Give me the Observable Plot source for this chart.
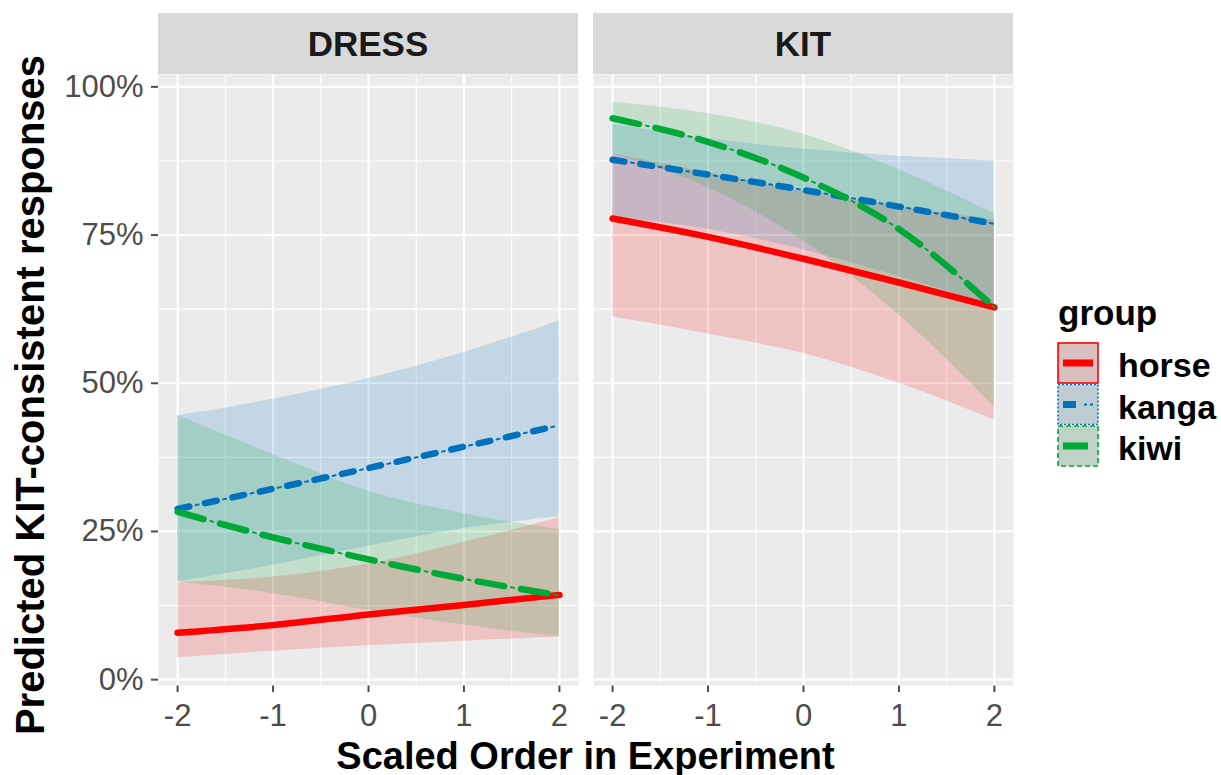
<!DOCTYPE html>
<html><head><meta charset="utf-8">
<script src="https://cdn.jsdelivr.net/npm/d3@7"></script>
<script src="https://cdn.jsdelivr.net/npm/@observablehq/plot@0.6"></script>
<style>
body{margin:0;background:#fff;}
#chart{position:relative;width:1221px;height:775px;}
#chart svg{font-family:"Liberation Sans",Arial,sans-serif;overflow:visible;}
g[aria-label="x-axis tick"], g[aria-label="y-axis tick"]{stroke:#333;stroke-width:2px;}
</style></head><body><div id="chart"></div>
<script>
// ---- categories / ticks ----
const orderX = [-2, -1, 0, 1, 2];
const panels = ["DRESS", "KIT"];
const groups = ["horse", "kanga", "kiwi"];
const groupColors = ["#FF0000", "#0071BC", "#00A838"];
const yTicks = [0, 0.25, 0.5, 0.75, 1];
const yMinor = [0.125, 0.375, 0.625, 0.875];
const xMinor = [-1.5, -0.5, 0.5, 1.5];

// ---- DRESS panel (percent) ----
const dressHorseFit = [7.9, 9.2, 11.0, 12.6, 14.3];
const dressHorseLo  = [3.7, 4.8, 5.7, 6.5, 7.2];
const dressHorseHi  = [16.4, 17.3, 19.5, 23.2, 27.3];
const dressKangaFit = [28.8, 32.2, 35.7, 39.3, 42.9];
const dressKangaLo  = [16.5, 19.3, 22.5, 25.5, 27.5];
const dressKangaHi  = [44.5, 47.3, 50.8, 55.2, 60.5];
const dressKiwiFit  = [28.3, 24.0, 20.3, 17.0, 14.2];
const dressKiwiLo   = [16.5, 14.5, 11.7, 9.2, 7.2];
const dressKiwiHi   = [44.6, 38.0, 31.8, 28.0, 25.3];

// ---- KIT panel (percent) ----
const kitHorseFit = [77.8, 74.7, 71.0, 67.0, 62.8];
const kitHorseLo  = [61.2, 58.3, 55.0, 50.0, 43.8];
const kitHorseHi  = [88.7, 85.5, 82.3, 79.8, 77.5];
const kitKangaFit = [87.7, 85.2, 82.6, 79.8, 76.9];
const kitKangaLo  = [78.0, 76.0, 72.5, 68.0, 63.0];
const kitKangaHi  = [93.7, 91.3, 89.5, 88.3, 87.5];
const kitKiwiFit  = [94.7, 90.7, 84.7, 76.0, 62.8];
const kitKiwiLo   = [88.7, 83.0, 74.0, 61.5, 46.0];
const kitKiwiHi   = [97.4, 95.5, 92.0, 86.0, 78.6];

const table = {
  DRESS: {
    horse: [dressHorseFit, dressHorseLo, dressHorseHi],
    kanga: [dressKangaFit, dressKangaLo, dressKangaHi],
    kiwi:  [dressKiwiFit,  dressKiwiLo,  dressKiwiHi]
  },
  KIT: {
    horse: [kitHorseFit, kitHorseLo, kitHorseHi],
    kanga: [kitKangaFit, kitKangaLo, kitKangaHi],
    kiwi:  [kitKiwiFit,  kitKiwiLo,  kitKiwiHi]
  }
};
const rows = [];
for (const panel of panels) for (const group of groups) {
  const [f, l, h] = table[panel][group];
  orderX.forEach((x, i) => rows.push({panel, group, x, fit: f[i] / 100, lo: l[i] / 100, hi: h[i] / 100}));
}

const yMin = d3.min(rows, d => d.lo), yMax = d3.max(rows, d => d.hi);
const yPad = 0.05 * (yMax - yMin);
const [xMin, xMax] = d3.extent(orderX);
const xPad = 0.05 * (xMax - xMin);
const curve = "monotone-x";
const colorOf = g => groupColors[groups.indexOf(g)];

const plot = Plot.plot({
  width: 1221, height: 775,
  marginLeft: 157, marginRight: 207, marginTop: 74, marginBottom: 90,
  facet: {marginTop: 0, marginRight: 0, marginBottom: 0, marginLeft: 0},
  fx: {domain: panels, paddingInner: 0.034, paddingOuter: 0, axis: null, label: null},
  x: {domain: [xMin - xPad, xMax + xPad], ticks: orderX, tickSize: 7, tickPadding: 11, label: null,
      tickFormat: d => (d < 0 ? "-" + Math.abs(d) : String(d))},
  y: {domain: [yMin - yPad, yMax + yPad], ticks: yTicks, tickSize: 7, tickPadding: 8, label: null,
      tickFormat: d => Math.round(d * 100) + "%"},
  color: {domain: groups, range: groupColors},
  style: {fontSize: "31px", color: "#4D4D4D", background: "transparent", fontFamily: "Liberation Sans, Arial, sans-serif"},
  marks: [
    Plot.frame({fill: "#EBEBEB", stroke: null}),
    Plot.gridY(yMinor, {stroke: "white", strokeOpacity: 1, strokeWidth: 1.1}),
    Plot.gridX(xMinor, {stroke: "white", strokeOpacity: 1, strokeWidth: 1.1}),
    Plot.gridY(yTicks, {stroke: "white", strokeOpacity: 1, strokeWidth: 2.2}),
    Plot.gridX(orderX, {stroke: "white", strokeOpacity: 1, strokeWidth: 2.2}),
    Plot.areaY(rows, {x: "x", y1: "lo", y2: "hi", fill: "group", fx: "panel", fillOpacity: 0.17, curve}),
    // horse: solid
    Plot.lineY(rows, {filter: d => d.group === "horse", x: "x", y: "fit", fx: "panel", stroke: "group", strokeWidth: 6.5, curve}),
    // kanga: dot-dash
    Plot.lineY(rows, {filter: d => d.group === "kanga", x: "x", y: "fit", fx: "panel", stroke: "group", strokeWidth: 2,
      strokeDasharray: "3 25", strokeDashoffset: 9.5, curve}),
    Plot.lineY(rows, {filter: d => d.group === "kanga", x: "x", y: "fit", fx: "panel", stroke: "group", strokeWidth: 6.5,
      strokeDasharray: "12 16", curve}),
    // kiwi: long dash
    Plot.lineY(rows, {filter: d => d.group === "kiwi", x: "x", y: "fit", fx: "panel", stroke: "group", strokeWidth: 2,
      strokeDasharray: "3 41", strokeDashoffset: 10, curve}),
    Plot.lineY(rows, {filter: d => d.group === "kiwi", x: "x", y: "fit", fx: "panel", stroke: "group", strokeWidth: 6.5,
      strokeDasharray: "27 17", curve})
  ]
});

document.getElementById("chart").appendChild(plot);

// ---- strips, axis titles and legend drawn into the same SVG ----
const svg = d3.select(plot);
const fx = plot.scale("fx");
const fxRange = fx.range;
const bw = fx.bandwidth;
const ann = svg.append("g").attr("font-family", "Liberation Sans, Arial, sans-serif").attr("text-anchor", "start");
for (const p of panels) {
  const x0 = fx.apply(p);
  ann.append("rect").attr("x", x0).attr("y", 13).attr("width", bw).attr("height", 74 - 13).attr("fill", "#D9D9D9");
  ann.append("text").attr("x", x0 + bw / 2).attr("y", 56).attr("text-anchor", "middle")
    .attr("font-size", 35).attr("font-weight", "bold").attr("fill", "#1A1A1A").text(p);
}
const xCenter = (fxRange[0] + fxRange[1]) / 2;
ann.append("text").attr("x", xCenter).attr("y", 769).attr("text-anchor", "middle")
  .attr("font-size", 38).attr("font-weight", "bold").attr("fill", "#000").text("Scaled Order in Experiment");
ann.append("text").attr("transform", "translate(44,395) rotate(-90)").attr("text-anchor", "middle")
  .attr("font-size", 40).attr("font-weight", "bold").attr("fill", "#000").text("Predicted KIT-consistent responses");

// legend
const lg = ann.append("g").attr("text-anchor", "start");
lg.append("text").attr("x", 1058).attr("y", 325).attr("text-anchor", "start").attr("font-size", 35).attr("font-weight", "bold").attr("fill", "#000").text("group");
const keyBorder = {horse: null, kanga: "2 2", kiwi: "5 3"};
groups.forEach((g, i) => {
  const y0 = 343 + i * 41.5;
  const c = colorOf(g);
  lg.append("rect").attr("x", 1058).attr("y", y0).attr("width", 40).attr("height", 40).attr("fill", "#D6D6D6");
  lg.append("rect").attr("x", 1058).attr("y", y0).attr("width", 40).attr("height", 40)
    .attr("fill", c).attr("fill-opacity", 0.1).attr("stroke", c).attr("stroke-width", 1.6)
    .attr("stroke-dasharray", keyBorder[g]);
  const ly = y0 + 20;
  if (g === "horse") {
    lg.append("line").attr("x1", 1063).attr("x2", 1093).attr("y1", ly).attr("y2", ly).attr("stroke", c).attr("stroke-width", 7);
  } else if (g === "kanga") {
    lg.append("line").attr("x1", 1063).attr("x2", 1093).attr("y1", ly).attr("y2", ly).attr("stroke", c).attr("stroke-width", 2).attr("stroke-dasharray", "0 21 3 3 3 10");
    lg.append("line").attr("x1", 1063).attr("x2", 1093).attr("y1", ly).attr("y2", ly).attr("stroke", c).attr("stroke-width", 7).attr("stroke-dasharray", "13 20");
  } else {
    lg.append("line").attr("x1", 1063).attr("x2", 1093).attr("y1", ly).attr("y2", ly).attr("stroke", c).attr("stroke-width", 7).attr("stroke-dasharray", "25 10");
  }
  lg.append("text").attr("x", 1118).attr("y", y0 + 34).attr("text-anchor", "start").attr("font-size", 34).attr("font-weight", "bold").attr("fill", "#000").text(g);
});
</script>
</body></html>
